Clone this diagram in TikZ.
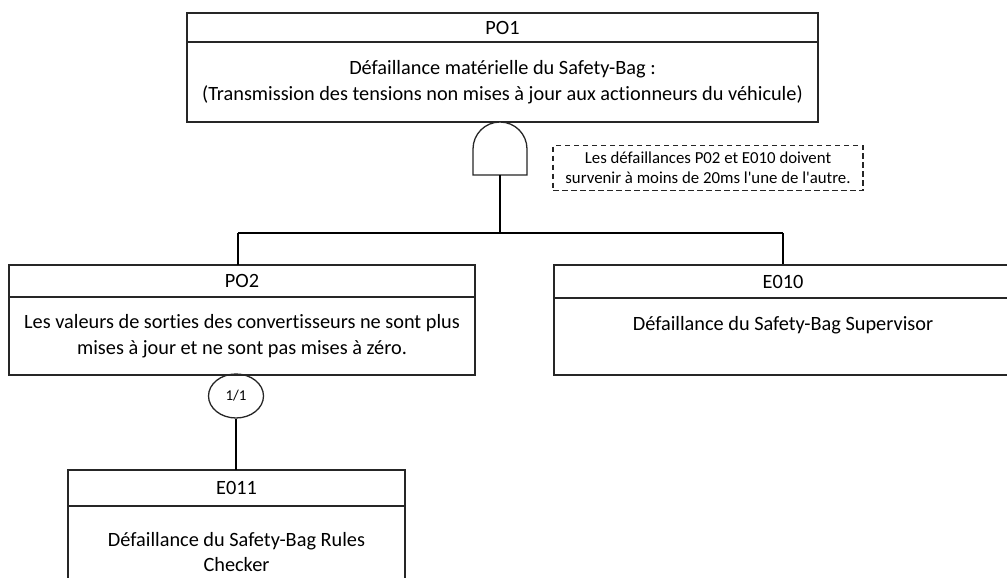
\documentclass[tikz,border=0pt]{standalone}
\usepackage{fontspec}
\setmainfont{Carlito}[Ligatures={NoCommon}]
\usetikzlibrary{shapes.geometric}
\tikzset{
  ln/.style={line width=1.3pt, draw=black!85},
  hdr/.style={ln, rectangle, inner sep=0pt, font=\fontsize{20.3}{26}\selectfont},
  bodybox/.style={ln, rectangle, inner sep=0pt, align=center, font=\fontsize{20.3}{26}\selectfont},
  txt/.style={inner sep=0pt, align=center, font=\fontsize{20.3}{25}\selectfont},
  notebox/.style={draw=black!85, line width=1.3pt, dashed, dash pattern=on 5.5pt off 3.5pt, rectangle, inner sep=0pt, align=center, font=\fontsize{16.8}{20}\selectfont},
  oval/.style={ln, ellipse, inner sep=0pt, font=\fontsize{15}{16}\selectfont},
  wire/.style={line width=1.3pt, draw=black}
}
\begin{document}
\begin{tikzpicture}[x=1pt,y=-1pt]
\useasboundingbox (0,0) rectangle (1007,578);
\clip (0,0) rectangle (1007,578);
% PO1
\node[hdr, minimum width=631pt, minimum height=29pt] (po1h) at (502.5,27.5) {PO1};
\node[bodybox, minimum width=631pt, minimum height=80pt] (po1b) at (502.5,82) {Défaillance matérielle du Safety-Bag :\\(Transmission des tensions non mises à jour aux actionneurs du véhicule)};
% AND gate
\draw[ln, fill=white] (473,175) -- (473,149) arc[start angle=180, end angle=0, radius=27pt] -- (527,175) -- cycle;
\coordinate (gatebot) at (500,175);
\coordinate (junc) at (500,233);
% note
\node[notebox, minimum width=310pt, minimum height=45pt] (note) at (708,168) {Les défaillances P02 et E010 doivent\\survenir à moins de 20ms l\textquotesingle une de l\textquotesingle autre.};
% PO2
\node[hdr, minimum width=466pt, minimum height=32pt] (po2h) at (242,281) {PO2};
\node[bodybox, minimum width=466pt, minimum height=78pt] (po2b) at (242,336) {Les valeurs de sorties des convertisseurs ne sont plus\\mises à jour et ne sont pas mises à zéro.};
% E010
\node[hdr, minimum width=458pt, minimum height=33pt] (e010h) at (783,281.5) {E010};
\node[bodybox, minimum width=458pt, minimum height=77pt] (e010b) at (783,336.5) {};
\node[txt] (e010t) at (783,325) {Défaillance du Safety-Bag Supervisor};
% ellipse
\node[oval, minimum width=55pt, minimum height=44pt] (ov) at (236,396) {1/1};
% E011
\node[hdr, minimum width=337pt, minimum height=36pt] (e011h) at (236.5,488) {E011};
\node[bodybox, minimum width=337pt, minimum height=100pt] (e011b) at (236.5,556) {};
\node[txt] (e011t) at (236.5,552) {Défaillance du Safety-Bag Rules\\Checker};
% connectors
\draw[wire] (gatebot) -- (junc);
\draw[wire] (238,233) -- (783,233);
\draw[wire] (238,233) -- (238,265);
\draw[wire] (783,233) -- (e010h.north);
\draw[wire] (ov.south) -- (236,470);
\end{tikzpicture}
\end{document}
